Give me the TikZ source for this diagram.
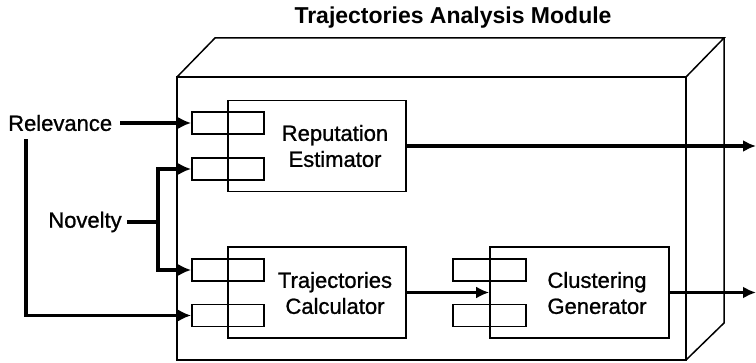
\documentclass[tikz,border=0pt]{standalone}
\usepackage{fontspec}
\setmainfont{Liberation Sans}
\newfontfamily\lblfont[FakeBold=1]{Liberation Sans}
\usetikzlibrary{arrows.meta}
\begin{document}
\begin{tikzpicture}[x=1pt,y=-1pt,
  edgethree/.style={line width=1.5pt, line join=miter},
  blockbox/.style={draw, line width=1.7pt, inner sep=0pt, minimum width=178pt, minimum height=91pt},
  portbox/.style={draw, line width=1.7pt, inner sep=0pt, minimum width=72pt, minimum height=22pt},
  conn/.style={line width=3.2pt, -{Latex[length=13pt,width=12pt]}},
  plainline/.style={line width=3.2pt},
  lbl/.style={font=\lblfont\fontsize{22}{26}\selectfont, align=center, inner sep=0pt},
  titlestyle/.style={font=\fontsize{23}{27}\selectfont\bfseries, inner sep=0pt}]
\useasboundingbox (0,0) rectangle (756,363);
% title
\node[titlestyle] (title) at (453,18) {Trajectories Analysis Module};
% 3D module box
\draw[edgethree] (177,77) rectangle (686,360);
\draw[edgethree] (177,77) -- (215,38) -- (724,38) -- (686,77);
\draw[edgethree] (724,38) -- (724,323) -- (686,360);
% blocks
\node[blockbox] (rep) at (317,146) {};
\node[blockbox] (calc) at (317,292.5) {};
\node[blockbox, minimum width=179pt] (clus) at (579.5,292.5) {};
% ports
\node[portbox] (p1) at (228,123) {};
\node[portbox] (p2) at (228,169) {};
\node[portbox] (p3) at (228,270) {};
\node[portbox] (p4) at (228,315.5) {};
\node[portbox, minimum width=73pt] (c1) at (489.5,270) {};
\node[portbox, minimum width=73pt] (c2) at (489.5,315.5) {};
% labels
\node[lbl] (replbl) at (335,146) {Reputation\\Estimator};
\node[lbl] (calclbl) at (335,293) {Trajectories\\Calculator};
\node[lbl] (cluslbl) at (597,293) {Clustering\\Generator};
\node[lbl, anchor=west] (rel) at (8,123) {Relevance};
\node[lbl] (nov) at (85,222) {Novelty};
% inputs
\draw[conn] ([xshift=8pt]rel.east) -- (p1.west);
\draw[conn] ([xshift=18pt,yshift=-8pt]rel.south west) |- (p4.west);
\coordinate (nj) at (158,222);
\draw[plainline] ([xshift=5pt]nov.east) -- (nj);
\draw[conn] (nj) |- (p2.west);
\draw[conn] (nj) |- (p3.west);
% outputs
\coordinate (out1) at (756,146);
\coordinate (out2) at (756,292.5);
\draw[conn] (rep.east) -- (out1);
\draw[conn] (calc.east) -- (clus.west);
\draw[conn] (clus.east) -- (out2);
\end{tikzpicture}
\end{document}
